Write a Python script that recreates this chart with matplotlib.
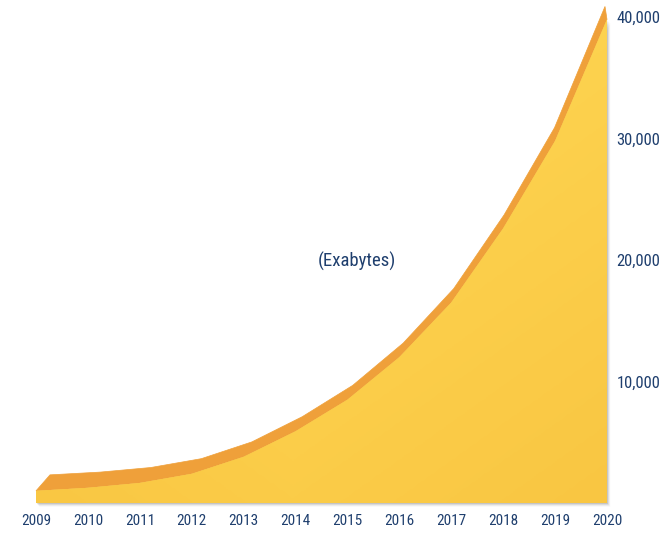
import numpy as np
import matplotlib
matplotlib.use("Agg")
import matplotlib.pyplot as plt
from matplotlib.patches import Polygon
from matplotlib.colors import LinearSegmentedColormap
from matplotlib.transforms import ScaledTranslation
from matplotlib import font_manager

# ---------------- data ----------------
years = [2009, 2010, 2011, 2012, 2013, 2014, 2015, 2016, 2017, 2018, 2019, 2020]
exabytes = [1000, 1250, 1650, 2400, 3800, 5900, 8500, 12000, 16500, 22600, 29800, 39800]
y_ticks = [10000, 20000, 30000, 40000]
y_tick_labels = ["10,000", "20,000", "30,000", "40,000"]
x_tick_labels = [str(y) for y in years]
unit_label = "(Exabytes)"

# ---------------- style ----------------
W, H, DPI = 666, 535, 100
navy = "#1F3F6E"
band_color = "#EFA03A"
face_dark = "#F9C642"
face_light = "#FFD955"

available = {f.name for f in font_manager.fontManager.ttflist}
family = [f for f in ["Liberation Sans Narrow", "Roboto Condensed", "Open Sans Condensed",
                      "Liberation Sans", "DejaVu Sans"] if f in available]
plt.rcParams["font.family"] = family + ["DejaVu Sans"]

fig = plt.figure(figsize=(W / DPI, H / DPI), dpi=DPI)
left_px, right_px, bottom_px = 36, 607, 503
px_per_10k = 121.5
ymax = 41000
height_px = ymax / 10000 * px_per_10k
ax = fig.add_axes([left_px / W, (H - bottom_px) / H, (right_px - left_px) / W, height_px / H])
ax.set_xlim(years[0], years[-1])
ax.set_ylim(0, ymax)

x = np.array(years, float)
y = np.array(exabytes, float)

# front face outline
front = np.vstack([[x[0], 0.0], np.column_stack([x, y]), [x[-1], 0.0]])

# soft shadow (down-right)
for k, a in [(1, 0.16), (2, 0.12), (3, 0.08), (4, 0.05)]:
    tr = ax.transData + ScaledTranslation(k * 0.8 / DPI, -k * 0.9 / DPI, fig.dpi_scale_trans)
    ax.add_patch(Polygon(front, closed=True, facecolor="#555555", edgecolor="none",
                         alpha=a, transform=tr, zorder=1, clip_on=False))

# top band (3D depth): back edge offset in pixels, varying along the x axis
disp = ax.transData.transform(np.column_stack([x, y]))
t = (x - x[0]) / (x[-1] - x[0])
dx_px = 14 * (1 - t) - 2 * t
dy_px = 16 * (1 - t) + 13 * t
back = ax.transData.inverted().transform(disp + np.column_stack([dx_px, dy_px]) * DPI / 100)
band = np.vstack([np.column_stack([x, y]), back[::-1]])
ax.add_patch(Polygon(band, closed=True, facecolor=band_color, edgecolor=band_color,
                     linewidth=0.5, zorder=2, clip_on=False))

# front face with subtle gradient
face = Polygon(front, closed=True, facecolor=face_dark, edgecolor="none", zorder=3, clip_on=False)
ax.add_patch(face)
gx, gy = np.meshgrid(np.linspace(0, 1, 300), np.linspace(0, 1, 300))
grad = 0.55 * gy + 0.45 * (1 - np.abs(gx - 0.45))
cmap = LinearSegmentedColormap.from_list("face", [face_dark, face_light])
im = ax.imshow(grad, extent=(years[0], years[-1], 0, ymax), origin="lower", aspect="auto",
               cmap=cmap, zorder=3.1, interpolation="bilinear")
im.set_clip_path(face)
ax.set_xlim(years[0], years[-1])
ax.set_ylim(0, ymax)

# axes styling
for s in ax.spines.values():
    s.set_visible(False)
ax.yaxis.tick_right()
ax.set_yticks(y_ticks, y_tick_labels)
ax.set_xticks(years, x_tick_labels)
ax.tick_params(axis="y", length=0, pad=7, labelsize=12, labelcolor=navy)
ax.tick_params(axis="x", length=0, pad=8, labelsize=11, labelcolor=navy)
ax.set_facecolor("none")

ax.text((357 - left_px) / (right_px - left_px), (bottom_px - 261) / height_px, unit_label,
        transform=ax.transAxes, ha="center", va="center", fontsize=13.5, color=navy, zorder=5)

fig.savefig("out.png", dpi=DPI, facecolor="white")
